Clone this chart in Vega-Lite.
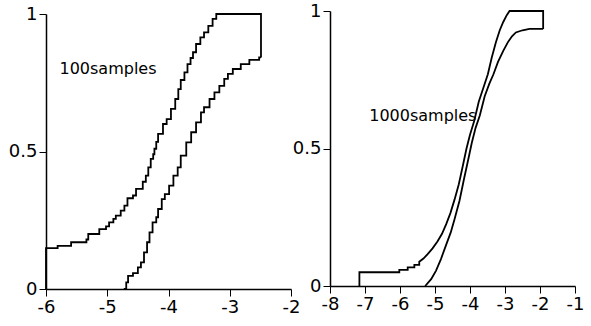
{
  "$schema": "https://vega.github.io/schema/vega-lite/v6.json",
  "background": "white",
  "padding": {"left": 8, "top": 2, "right": 5, "bottom": 5},
  "bounds": "flush",
  "spacing": 39,
  "config": {
    "view": {"stroke": null},
    "axis": {
      "domainColor": "black", "domainWidth": 1.5, "tickColor": "black", "tickWidth": 1,
      "labelColor": "black", "labelFont": "DejaVu Sans", "labelFontSize": 18,
      "labelFlush": false, "labelOverlap": false, "grid": false, "title": null, "labelPadding": 2
    }
  },
  "datasets": {
    "left": [
      {"bound": "upper", "i": 1, "x": -6, "y": 0},
      {"bound": "upper", "i": 2, "x": -6, "y": 0.149},
      {"bound": "upper", "i": 3, "x": -5.81, "y": 0.157},
      {"bound": "upper", "i": 4, "x": -5.59, "y": 0.17},
      {"bound": "upper", "i": 5, "x": -5.34, "y": 0.18},
      {"bound": "upper", "i": 6, "x": -5.31, "y": 0.2},
      {"bound": "upper", "i": 7, "x": -5.13, "y": 0.218},
      {"bound": "upper", "i": 8, "x": -5.02, "y": 0.228},
      {"bound": "upper", "i": 9, "x": -4.97, "y": 0.242},
      {"bound": "upper", "i": 10, "x": -4.9, "y": 0.255},
      {"bound": "upper", "i": 11, "x": -4.86, "y": 0.267},
      {"bound": "upper", "i": 12, "x": -4.78, "y": 0.285},
      {"bound": "upper", "i": 13, "x": -4.72, "y": 0.303},
      {"bound": "upper", "i": 14, "x": -4.67, "y": 0.33},
      {"bound": "upper", "i": 15, "x": -4.58, "y": 0.34},
      {"bound": "upper", "i": 16, "x": -4.53, "y": 0.364},
      {"bound": "upper", "i": 17, "x": -4.42, "y": 0.39},
      {"bound": "upper", "i": 18, "x": -4.37, "y": 0.412},
      {"bound": "upper", "i": 19, "x": -4.33, "y": 0.442},
      {"bound": "upper", "i": 20, "x": -4.29, "y": 0.473},
      {"bound": "upper", "i": 21, "x": -4.25, "y": 0.49},
      {"bound": "upper", "i": 22, "x": -4.23, "y": 0.51},
      {"bound": "upper", "i": 23, "x": -4.2, "y": 0.535},
      {"bound": "upper", "i": 24, "x": -4.17, "y": 0.564},
      {"bound": "upper", "i": 25, "x": -4.09, "y": 0.6},
      {"bound": "upper", "i": 26, "x": -4.03, "y": 0.618},
      {"bound": "upper", "i": 27, "x": -3.96, "y": 0.655},
      {"bound": "upper", "i": 28, "x": -3.89, "y": 0.691},
      {"bound": "upper", "i": 29, "x": -3.84, "y": 0.727},
      {"bound": "upper", "i": 30, "x": -3.8, "y": 0.76},
      {"bound": "upper", "i": 31, "x": -3.74, "y": 0.788},
      {"bound": "upper", "i": 32, "x": -3.69, "y": 0.818},
      {"bound": "upper", "i": 33, "x": -3.64, "y": 0.84},
      {"bound": "upper", "i": 34, "x": -3.6, "y": 0.861},
      {"bound": "upper", "i": 35, "x": -3.55, "y": 0.891},
      {"bound": "upper", "i": 36, "x": -3.48, "y": 0.915},
      {"bound": "upper", "i": 37, "x": -3.42, "y": 0.933},
      {"bound": "upper", "i": 38, "x": -3.35, "y": 0.957},
      {"bound": "upper", "i": 39, "x": -3.28, "y": 0.982},
      {"bound": "upper", "i": 40, "x": -3.22, "y": 1.0},
      {"bound": "upper", "i": 41, "x": -2.49, "y": 1.0},
      {"bound": "upper", "i": 42, "x": -2.49, "y": 0.842},
      {"bound": "lower", "i": 1, "x": -4.73, "y": 0},
      {"bound": "lower", "i": 2, "x": -4.69, "y": 0.024},
      {"bound": "lower", "i": 3, "x": -4.66, "y": 0.048},
      {"bound": "lower", "i": 4, "x": -4.58, "y": 0.058},
      {"bound": "lower", "i": 5, "x": -4.5, "y": 0.079},
      {"bound": "lower", "i": 6, "x": -4.45, "y": 0.097},
      {"bound": "lower", "i": 7, "x": -4.4, "y": 0.133},
      {"bound": "lower", "i": 8, "x": -4.35, "y": 0.17},
      {"bound": "lower", "i": 9, "x": -4.31, "y": 0.206},
      {"bound": "lower", "i": 10, "x": -4.26, "y": 0.242},
      {"bound": "lower", "i": 11, "x": -4.2, "y": 0.261},
      {"bound": "lower", "i": 12, "x": -4.17, "y": 0.291},
      {"bound": "lower", "i": 13, "x": -4.11, "y": 0.327},
      {"bound": "lower", "i": 14, "x": -4.06, "y": 0.345},
      {"bound": "lower", "i": 15, "x": -3.99, "y": 0.376},
      {"bound": "lower", "i": 16, "x": -3.92, "y": 0.412},
      {"bound": "lower", "i": 17, "x": -3.85, "y": 0.442},
      {"bound": "lower", "i": 18, "x": -3.8, "y": 0.485},
      {"bound": "lower", "i": 19, "x": -3.71, "y": 0.533},
      {"bound": "lower", "i": 20, "x": -3.63, "y": 0.57},
      {"bound": "lower", "i": 21, "x": -3.55, "y": 0.606},
      {"bound": "lower", "i": 22, "x": -3.47, "y": 0.642},
      {"bound": "lower", "i": 23, "x": -3.42, "y": 0.661},
      {"bound": "lower", "i": 24, "x": -3.33, "y": 0.691},
      {"bound": "lower", "i": 25, "x": -3.25, "y": 0.715},
      {"bound": "lower", "i": 26, "x": -3.17, "y": 0.739},
      {"bound": "lower", "i": 27, "x": -3.09, "y": 0.764},
      {"bound": "lower", "i": 28, "x": -3.03, "y": 0.782},
      {"bound": "lower", "i": 29, "x": -2.95, "y": 0.8},
      {"bound": "lower", "i": 30, "x": -2.82, "y": 0.818},
      {"bound": "lower", "i": 31, "x": -2.68, "y": 0.833},
      {"bound": "lower", "i": 32, "x": -2.52, "y": 0.842},
      {"bound": "lower", "i": 33, "x": -2.49, "y": 0.842}
    ],
    "right": [
      {"bound": "upper", "i": 1, "x": -7.16, "y": 0},
      {"bound": "upper", "i": 2, "x": -7.16, "y": 0.05},
      {"bound": "upper", "i": 3, "x": -6.02, "y": 0.05},
      {"bound": "upper", "i": 4, "x": -6.02, "y": 0.059},
      {"bound": "upper", "i": 5, "x": -5.78, "y": 0.059},
      {"bound": "upper", "i": 6, "x": -5.78, "y": 0.068},
      {"bound": "upper", "i": 7, "x": -5.59, "y": 0.068},
      {"bound": "upper", "i": 8, "x": -5.59, "y": 0.077},
      {"bound": "upper", "i": 9, "x": -5.45, "y": 0.077},
      {"bound": "upper", "i": 10, "x": -5.45, "y": 0.088},
      {"bound": "upper", "i": 11, "x": -5.33, "y": 0.1},
      {"bound": "upper", "i": 12, "x": -5.21, "y": 0.116},
      {"bound": "upper", "i": 13, "x": -5.07, "y": 0.137},
      {"bound": "upper", "i": 14, "x": -4.93, "y": 0.162},
      {"bound": "upper", "i": 15, "x": -4.8, "y": 0.19},
      {"bound": "upper", "i": 16, "x": -4.68, "y": 0.225},
      {"bound": "upper", "i": 17, "x": -4.56, "y": 0.265},
      {"bound": "upper", "i": 18, "x": -4.44, "y": 0.315},
      {"bound": "upper", "i": 19, "x": -4.32, "y": 0.37},
      {"bound": "upper", "i": 20, "x": -4.2, "y": 0.44},
      {"bound": "upper", "i": 21, "x": -4.1, "y": 0.5},
      {"bound": "upper", "i": 22, "x": -4.0, "y": 0.55},
      {"bound": "upper", "i": 23, "x": -3.88, "y": 0.6},
      {"bound": "upper", "i": 24, "x": -3.75, "y": 0.67},
      {"bound": "upper", "i": 25, "x": -3.62, "y": 0.72},
      {"bound": "upper", "i": 26, "x": -3.49, "y": 0.77},
      {"bound": "upper", "i": 27, "x": -3.38, "y": 0.83},
      {"bound": "upper", "i": 28, "x": -3.26, "y": 0.886},
      {"bound": "upper", "i": 29, "x": -3.15, "y": 0.93},
      {"bound": "upper", "i": 30, "x": -3.05, "y": 0.96},
      {"bound": "upper", "i": 31, "x": -2.95, "y": 0.985},
      {"bound": "upper", "i": 32, "x": -2.87, "y": 1.0},
      {"bound": "upper", "i": 33, "x": -1.91, "y": 1.0},
      {"bound": "upper", "i": 34, "x": -1.91, "y": 0.935},
      {"bound": "lower", "i": 1, "x": -5.28, "y": 0},
      {"bound": "lower", "i": 2, "x": -5.11, "y": 0.025},
      {"bound": "lower", "i": 3, "x": -4.97, "y": 0.056},
      {"bound": "lower", "i": 4, "x": -4.83, "y": 0.098},
      {"bound": "lower", "i": 5, "x": -4.69, "y": 0.147},
      {"bound": "lower", "i": 6, "x": -4.55, "y": 0.195},
      {"bound": "lower", "i": 7, "x": -4.44, "y": 0.244},
      {"bound": "lower", "i": 8, "x": -4.3, "y": 0.31},
      {"bound": "lower", "i": 9, "x": -4.17, "y": 0.39},
      {"bound": "lower", "i": 10, "x": -4.05, "y": 0.46},
      {"bound": "lower", "i": 11, "x": -3.95, "y": 0.52},
      {"bound": "lower", "i": 12, "x": -3.84, "y": 0.575},
      {"bound": "lower", "i": 13, "x": -3.72, "y": 0.62},
      {"bound": "lower", "i": 14, "x": -3.58, "y": 0.69},
      {"bound": "lower", "i": 15, "x": -3.45, "y": 0.735},
      {"bound": "lower", "i": 16, "x": -3.33, "y": 0.77},
      {"bound": "lower", "i": 17, "x": -3.2, "y": 0.815},
      {"bound": "lower", "i": 18, "x": -3.05, "y": 0.855},
      {"bound": "lower", "i": 19, "x": -2.92, "y": 0.886},
      {"bound": "lower", "i": 20, "x": -2.8, "y": 0.908},
      {"bound": "lower", "i": 21, "x": -2.69, "y": 0.922},
      {"bound": "lower", "i": 22, "x": -2.5, "y": 0.93},
      {"bound": "lower", "i": 23, "x": -2.3, "y": 0.935},
      {"bound": "lower", "i": 24, "x": -1.91, "y": 0.935}
    ],
    "leftLabel": [{"label": "100samples", "x": -5.78, "y": 0.8}],
    "rightLabel": [{"label": "1000samples", "x": -6.88, "y": 0.619}]
  },
  "hconcat": [
    {
      "width": 245,
      "height": 278,
      "resolve": {"scale": {"x": "independent", "y": "independent"}, "axis": {"x": "independent", "y": "independent"}},
      "layer": [
        {
          "data": {"name": "leftLabel"},
          "mark": {"type": "text", "align": "left", "baseline": "middle", "font": "DejaVu Sans", "fontSize": 16, "color": "black"},
          "encoding": {
            "x": {
              "field": "x", "type": "quantitative",
              "scale": {"domain": [-6, -2], "nice": false, "zero": false},
              "axis": {"orient": "bottom", "values": [-6, -5, -4, -3, -2], "tickSize": 7, "labelExpr": "toString(datum.value)"}
            },
            "y": {
              "field": "y", "type": "quantitative",
              "scale": {"domain": [0, 1], "range": [278, 3], "nice": false, "zero": false},
              "axis": {"orient": "left", "values": [0, 0.5, 1], "tickSize": 7, "labelExpr": "toString(datum.value)"}
            },
            "text": {"field": "label"}
          }
        },
        {
          "data": {"name": "left"},
          "mark": {"type": "line", "interpolate": "step-after", "color": "black", "strokeWidth": 1.8},
          "encoding": {
            "x": {
              "field": "x", "type": "quantitative",
              "scale": {"domain": [-6, -2], "nice": false, "zero": false},
              "axis": null
            },
            "y": {
              "field": "y", "type": "quantitative",
              "scale": {"domain": [0, 1], "range": [278, 3], "nice": false, "zero": false},
              "axis": null
            },
            "detail": {"field": "bound"},
            "order": {"field": "i"}
          }
        }
      ]
    },
    {
      "width": 245,
      "height": 275,
      "resolve": {"scale": {"x": "independent", "y": "independent"}, "axis": {"x": "independent", "y": "independent"}},
      "layer": [
        {
          "data": {"name": "rightLabel"},
          "mark": {"type": "text", "align": "left", "baseline": "middle", "font": "DejaVu Sans", "fontSize": 16, "color": "black"},
          "encoding": {
            "x": {
              "field": "x", "type": "quantitative",
              "scale": {"domain": [-8, -1], "nice": false, "zero": false},
              "axis": {"orient": "bottom", "values": [-8, -7, -6, -5, -4, -3, -2, -1], "tickSize": 7, "labelExpr": "toString(datum.value)"}
            },
            "y": {
              "field": "y", "type": "quantitative",
              "scale": {"domain": [0, 1], "nice": false, "zero": false},
              "axis": {"orient": "left", "values": [0, 0.5, 1], "tickSize": 7, "labelExpr": "toString(datum.value)"}
            },
            "text": {"field": "label"}
          }
        },
        {
          "data": {"name": "right"},
          "mark": {"type": "line", "interpolate": "linear", "color": "black", "strokeWidth": 1.8},
          "encoding": {
            "x": {
              "field": "x", "type": "quantitative",
              "scale": {"domain": [-8, -1], "nice": false, "zero": false},
              "axis": null
            },
            "y": {
              "field": "y", "type": "quantitative",
              "scale": {"domain": [0, 1], "nice": false, "zero": false},
              "axis": null
            },
            "detail": {"field": "bound"},
            "order": {"field": "i"}
          }
        }
      ]
    }
  ]
}
